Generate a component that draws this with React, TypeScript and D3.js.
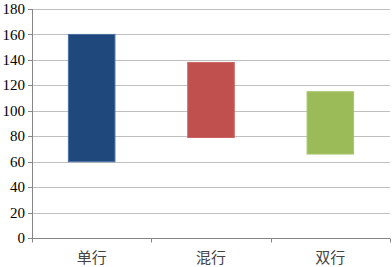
import React, { useEffect, useRef } from 'react';
import * as d3 from 'd3';

const categories = ['单行', '混行', '双行'];
const lowValues = [60, 79, 66];
const highValues = [160, 138, 115];
const barColors = ['#1F497D', '#C0504D', '#9BBB59'];
const barStrokes = ['#4a6fa0', '#c96663', '#a9c46f'];
const yTicks = [0, 20, 40, 60, 80, 100, 120, 140, 160, 180];

const App: React.FC = () => {
    const svgRef = useRef<SVGSVGElement>(null);

    useEffect(() => {
        if (!svgRef.current) return;
        const svg = d3.select(svgRef.current);
        svg.selectAll('*').remove();

        const left = 32;
        const right = 390;
        const top = 9;
        const bottom = 238;

        const x = d3.scaleBand<string>()
            .domain(categories)
            .range([left, right])
            .paddingInner(0.61)
            .paddingOuter(0.305);

        const y = d3.scaleLinear()
            .domain([0, 180])
            .range([bottom, top]);

        // gridlines
        svg.append('g')
            .selectAll('line')
            .data(yTicks.filter(t => t > 0))
            .join('line')
            .attr('x1', left)
            .attr('x2', right)
            .attr('y1', d => Math.round(y(d)) + 0.5)
            .attr('y2', d => Math.round(y(d)) + 0.5)
            .attr('stroke', '#bfbfbf')
            .attr('stroke-width', 1);

        // bars
        svg.append('g')
            .selectAll('rect')
            .data(categories)
            .join('rect')
            .attr('x', d => x(d)!)
            .attr('width', x.bandwidth())
            .attr('y', (_, i) => y(highValues[i]))
            .attr('height', (_, i) => y(lowValues[i]) - y(highValues[i]))
            .attr('fill', (_, i) => barColors[i])
            .attr('stroke', (_, i) => barStrokes[i])
            .attr('stroke-width', 1);

        // y axis, drawn by hand so the serif font sticks
        const yAxis = svg.append('g');
        yAxis.append('line')
            .attr('x1', left + 0.5)
            .attr('x2', left + 0.5)
            .attr('y1', top)
            .attr('y2', bottom + 0.5)
            .attr('stroke', '#868686');
        yAxis.selectAll('line.tick')
            .data(yTicks)
            .join('line')
            .attr('class', 'tick')
            .attr('x1', left - 4)
            .attr('x2', left + 0.5)
            .attr('y1', d => Math.round(y(d)) + 0.5)
            .attr('y2', d => Math.round(y(d)) + 0.5)
            .attr('stroke', '#868686');
        yAxis.selectAll('text')
            .data(yTicks)
            .join('text')
            .attr('x', left - 7)
            .attr('y', d => y(d))
            .attr('dy', '0.34em')
            .attr('text-anchor', 'end')
            .attr('font-family', 'Liberation Serif')
            .attr('font-size', 15)
            .attr('fill', '#000')
            .text(d => d);

        // x axis
        const xAxisG = svg.append('g')
            .attr('transform', `translate(0,${bottom + 0.5})`);
        xAxisG.append('line')
            .attr('x1', left)
            .attr('x2', right)
            .attr('stroke', '#868686');
        const step = (right - left) / categories.length;
        xAxisG.selectAll('line.tick')
            .data(d3.range(categories.length + 1))
            .join('line')
            .attr('class', 'tick')
            .attr('x1', d => Math.round(left + d * step) + 0.5)
            .attr('x2', d => Math.round(left + d * step) + 0.5)
            .attr('y1', 0)
            .attr('y2', 4)
            .attr('stroke', '#868686');

        svg.append('g')
            .selectAll('text')
            .data(categories)
            .join('text')
            .attr('x', d => x(d)! + x.bandwidth() / 2)
            .attr('y', 263)
            .attr('text-anchor', 'middle')
            .attr('font-family', 'Noto Sans CJK SC, sans-serif')
            .attr('font-size', 15)
            .attr('fill', '#444')
            .text(d => d);
    }, []);

    return (
        <svg
            ref={svgRef}
            width={392}
            height={267}
            style={{ position: 'absolute', left: 0, top: 0, background: '#fff' }}
        />
    );
};

export default App;
